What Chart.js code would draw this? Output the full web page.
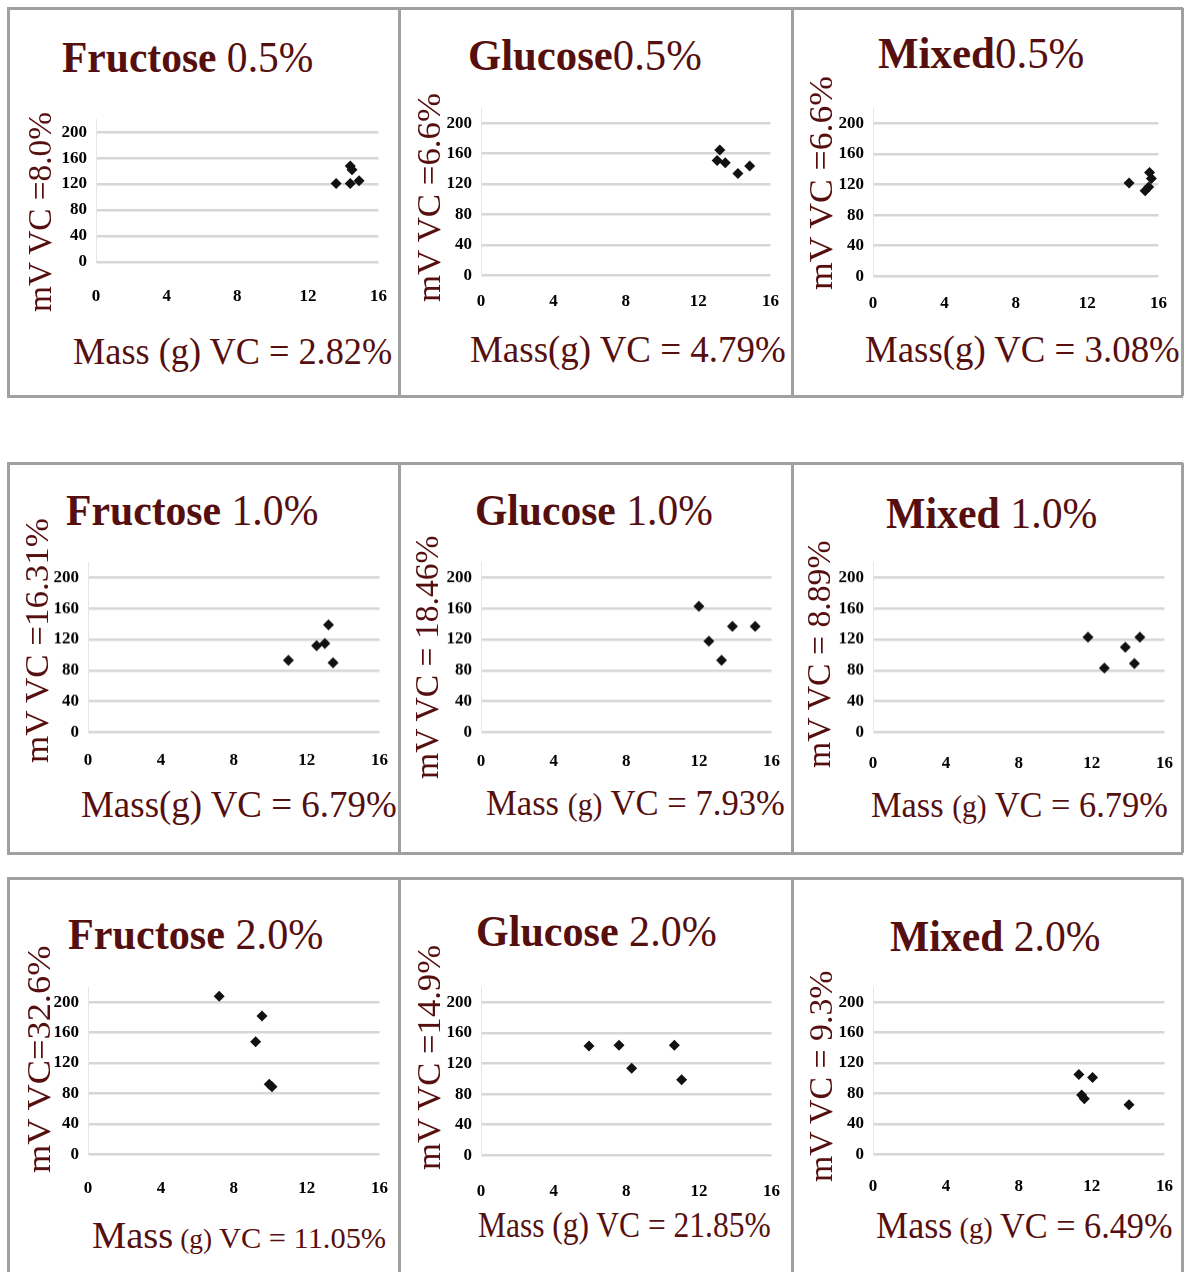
<!DOCTYPE html>
<html>
<head>
<meta charset="utf-8">
<title>Mass vs mV scatter panels</title>
<script src="https://cdn.jsdelivr.net/npm/chart.js"></script>
<style>
  body { margin: 0; background: #fff; }
  #page { position: relative; width: 1184px; height: 1272px; overflow: hidden; background: #fff;
          font-family: "Liberation Serif", "Times New Roman", serif; }
  .rule { position: absolute; background: #a0a0a0; }
  .box { position: absolute; }
  .txt { position: absolute; white-space: nowrap; line-height: 1; color: #560f0f; transform-origin: 0 0; }
</style>
</head>
<body>
<div id="page"></div>
<script>
// axis ticks
const xTicks = [0, 4, 8, 12, 16];
const yTicks = [0, 40, 80, 120, 160, 200];

// values: mass (g) and signal (mV)
const fru05Mass = [13.6, 14.4, 14.5, 14.4, 14.9];
const fru05mV   = [121, 148, 142, 121, 125];
const glu05Mass = [13.2, 13.05, 13.5, 14.2, 14.85];
const glu05mV   = [165, 151, 148, 134, 144];
const mix05Mass = [14.35, 15.25, 15.5, 15.6, 15.45];
const mix05mV   = [122, 112, 136, 128, 117];

const fru10Mass = [11.0, 12.55, 13.0, 13.2, 13.45];
const fru10mV   = [93, 112, 115, 139, 90];
const glu10Mass = [12.0, 12.55, 13.25, 13.85, 15.1];
const glu10mV   = [163, 118, 93, 137, 137];
const mix10Mass = [11.8, 12.7, 13.85, 14.35, 14.65];
const mix10mV   = [123, 83, 110, 89, 123];

const fru20Mass = [7.2, 9.55, 9.2, 9.95, 10.1];
const fru20mV   = [208, 182, 148, 92, 89];
const glu20Mass = [5.95, 7.6, 8.3, 10.65, 11.05];
const glu20mV   = [143, 144, 114, 144, 99];
const mix20Mass = [11.3, 12.05, 11.45, 11.6, 14.05];
const mix20mV   = [105, 101, 78, 73, 65];

const masses = [fru05Mass, glu05Mass, mix05Mass, fru10Mass, glu10Mass, mix10Mass, fru20Mass, glu20Mass, mix20Mass];
const volts  = [fru05mV, glu05mV, mix05mV, fru10mV, glu10mV, mix10mV, fru20mV, glu20mV, mix20mV];

// texts
const sugars = ['Fructose', 'Glucose', 'Mixed', 'Fructose', 'Glucose', 'Mixed', 'Fructose', 'Glucose', 'Mixed'];
const concs  = [' 0.5%', '0.5%', '0.5%', ' 1.0%', ' 1.0%', ' 1.0%', ' 2.0%', ' 2.0%', ' 2.0%'];
const mvLabels = ['mV  VC =8.0%', 'mV  VC =6.6%', 'mV  VC =6.6%', 'mV  VC =16.31%', 'mV  VC = 18.46%',
                  'mV  VC = 8.89%', 'mV  VC=32.6%', 'mV  VC =14.9%', 'mV  VC = 9.3%'];
const massLabels = [
  [['Mass (g) VC = 2.82%', 38]],
  [['Mass(g) VC = 4.79%', 38]],
  [['Mass(g) VC = 3.08%', 38]],
  [['Mass(g) VC = 6.79%', 38]],
  [['Mass ', 36], ['(g)', 31], [' VC = 7.93%', 36]],
  [['Mass ', 36], ['(g)', 31], [' VC = 6.79%', 36]],
  [['Mass', 38], [' (g) ', 27], ['VC = 11.05%', 30]],
  [['Mass (g) VC = 21.85%', 36]],
  [['Mass', 38], [' (g) ', 30], ['VC = 6.49%', 36]]
];

// layout: plot rectangles [left(0), right(16), y of 200, y of 0]
const plotRects = [
  [96, 378, 132, 262], [481, 770, 123, 275], [873, 1158, 123, 276],
  [88, 379, 578, 732], [481, 771, 578, 732], [873, 1164, 578, 732],
  [88, 379, 1002, 1154], [481, 771, 1002, 1155], [873, 1164, 1002, 1154]
];
const xLabelGap = [24, 16, 17, 18, 19, 21, 24, 26, 22];
const yAxisTop = 220; // axis runs a little past the last labelled gridline
// [left, right, baseline]
const titleBoxes = [
  [62, 313, 73], [468, 702, 71], [878, 1084, 69],
  [66, 318, 526], [475, 713, 526], [886, 1097, 529],
  [68, 323, 950], [476, 717, 947], [890, 1100, 952]
];
const massBoxes = [
  [73, 392, 364], [470, 786, 362], [865, 1180, 362],
  [81, 397, 817], [486, 785, 815], [871, 1168, 817],
  [92, 386, 1248], [478, 771, 1237], [876, 1173, 1238]
];
// [bottom, top, baseline x]
const mvBoxes = [
  [312, 112, 51], [302, 93, 440], [290, 76, 832],
  [763, 518, 48], [779, 535, 438], [768, 540, 830],
  [1173, 945, 50], [1170, 945, 440], [1182, 970, 832]
];

const page = document.getElementById('page');
const serif = '"Liberation Serif", "Times New Roman", serif';

// panel frame lines
const hRules = [8, 396, 463, 853, 878];
const vRuleSpans = [[8, 396], [463, 853], [878, 1272]];
const vRuleXs = [7, 398, 791, 1181];
hRules.forEach(y => {
  const d = document.createElement('div');
  d.className = 'rule';
  Object.assign(d.style, { left: '7px', top: (y - 1) + 'px', width: '1176px', height: '3px' });
  page.appendChild(d);
});
vRuleSpans.forEach(([a, b]) => vRuleXs.forEach(x => {
  const d = document.createElement('div');
  d.className = 'rule';
  Object.assign(d.style, { left: x + 'px', top: a + 'px', width: '3px', height: (b - a) + 'px' });
  page.appendChild(d);
}));

function placeText(parts, from, to, base, vertical) {
  const el = document.createElement('div');
  el.className = 'txt';
  const big = Math.max(...parts.map(p => p[1]));
  el.style.fontSize = big + 'px';
  parts.forEach(([t, size, weight]) => {
    const sp = document.createElement('span');
    sp.textContent = t;
    sp.style.fontSize = size + 'px';
    sp.style.fontWeight = weight || 'normal';
    el.appendChild(sp);
  });
  page.appendChild(el);
  const w = el.offsetWidth;
  const b = big * 0.8375;
  const s = Math.abs(to - from) / w;
  if (vertical) {
    el.style.left = (base - b) + 'px';
    el.style.top = from + 'px';
    el.style.transform = `rotate(-90deg) scaleX(${s})`;
  } else {
    el.style.left = from + 'px';
    el.style.top = (base - b) + 'px';
    el.style.transform = `scaleX(${s})`;
  }
}

const tickFont = { family: serif, weight: 'bold', size: 17 };

function makeChart(i) {
  const [x0, x1, y200, y0] = plotRects[i];
  const top = y0 - (y0 - y200) * yAxisTop / yTicks[yTicks.length - 1];
  const L = 50, T = 10, R = 15, B = 50;
  const wrap = document.createElement('div');
  wrap.className = 'box';
  Object.assign(wrap.style, {
    left: (x0 - L) + 'px', top: (top - T) + 'px',
    width: (x1 - x0 + L + R) + 'px', height: (y0 - top + T + B) + 'px'
  });
  const cv = document.createElement('canvas');
  wrap.appendChild(cv);
  page.appendChild(wrap);

  const chart = new Chart(cv, {
    type: 'scatter',
    data: {
      datasets: [{
        data: masses[i].map((m, k) => ({ x: m, y: volts[i][k] })),
        pointStyle: 'rectRot',
        radius: 5.5,
        backgroundColor: '#111',
        borderColor: '#111',
        borderWidth: 0
      }]
    },
    options: {
      responsive: true,
      maintainAspectRatio: false,
      animation: false,
      events: [],
      layout: { padding: { top: T, right: R, left: 0, bottom: 0 } },
      plugins: { legend: { display: false }, tooltip: { enabled: false } },
      scales: {
        x: {
          type: 'linear', min: xTicks[0], max: xTicks[xTicks.length - 1],
          afterBuildTicks: s => { s.ticks = xTicks.map(v => ({ value: v })); },
          ticks: { padding: xLabelGap[i], color: '#000', font: tickFont },
          grid: { display: false, drawTicks: false },
          border: { display: false },
          afterFit: s => { s.height = B; }
        },
        y: {
          min: yTicks[0], max: yAxisTop,
          afterBuildTicks: s => { s.ticks = yTicks.map(v => ({ value: v })); },
          ticks: { padding: 9, color: '#000', font: tickFont },
          grid: { color: '#d6d6d6', lineWidth: 2.5, drawTicks: false },
          border: { display: true, color: '#e6e6e6', width: 1 },
          afterFit: s => { s.width = L; }
        }
      }
    }
  });

  // shift/resize the canvas so the plot area sits on the picture's axes
  for (let k = 0; k < 2; k++) {
    const ca = chart.chartArea;
    const padL = ca.left, padT = ca.top;
    const padR = wrap.clientWidth - ca.right, padB = wrap.clientHeight - ca.bottom;
    Object.assign(wrap.style, {
      left: (x0 - padL) + 'px', top: (top - padT) + 'px',
      width: (x1 - x0 + padL + padR) + 'px', height: (y0 - top + padT + padB) + 'px'
    });
    chart.resize();
  }
}

for (let i = 0; i < 9; i++) {
  makeChart(i);
  const [tl, tr, tb] = titleBoxes[i];
  placeText([[sugars[i], 44, 'bold'], [concs[i], 44, 'normal']], tl, tr, tb, false);
  const [ml, mr, mb] = massBoxes[i];
  placeText(massLabels[i], ml, mr, mb, false);
  const [vb, vt, vx] = mvBoxes[i];
  placeText([[mvLabels[i], 34]], vb, vt, vx, true);
}
</script>
</body>
</html>
